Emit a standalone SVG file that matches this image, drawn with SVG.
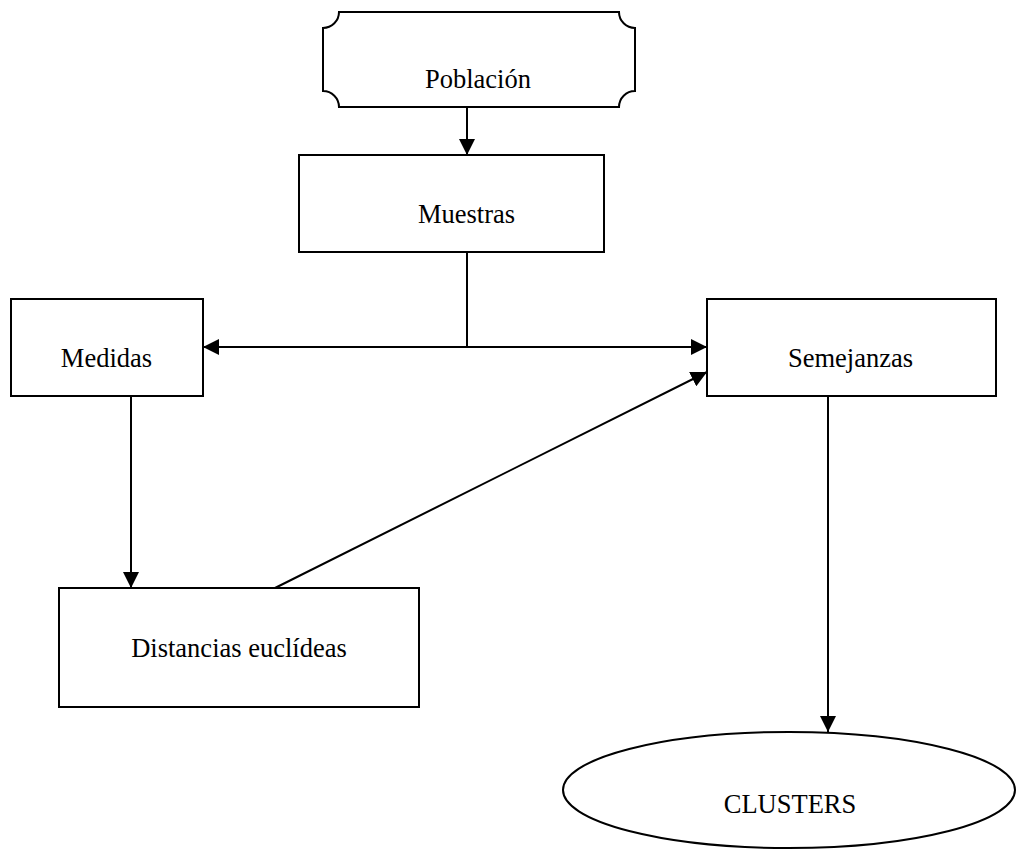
<svg xmlns="http://www.w3.org/2000/svg" width="1016" height="850" viewBox="0 0 1016 850">
<defs>
<style>
.n{fill:#fff;stroke:#000;stroke-width:2}
.t{font-family:"Liberation Serif","Times New Roman",serif;font-size:26.5px;fill:#000;text-anchor:middle}
.c{fill:none;stroke:#000;stroke-width:2}
</style>
<marker id="ah" markerUnits="userSpaceOnUse" markerWidth="16" markerHeight="16" viewBox="0 0 16 16" refX="16" refY="8" orient="auto">
<path d="M0,0 L16,8 L0,16 Z" fill="#000"/>
</marker>
</defs>
<rect width="1016" height="850" fill="#fff"/>
<g id="connectors">
<line class="c" x1="467" y1="107" x2="467" y2="155" marker-end="url(#ah)"/>
<line class="c" x1="467" y1="252" x2="467" y2="347"/>
<line class="c" x1="467" y1="347" x2="203" y2="347" marker-end="url(#ah)"/>
<line class="c" x1="467" y1="347" x2="707" y2="347" marker-end="url(#ah)"/>
<line class="c" x1="131" y1="396" x2="131" y2="588" marker-end="url(#ah)"/>
<line class="c" x1="275" y1="588" x2="707" y2="372" marker-end="url(#ah)"/>
<line class="c" x1="828" y1="396" x2="828" y2="732" marker-end="url(#ah)"/>
</g>
<g id="poblacion">
<path class="n" d="M339,12 H619 A16,16 0 0 0 635,28 V91 A16,16 0 0 0 619,107 H339 A16,16 0 0 0 323,91 V28 A16,16 0 0 0 339,12 Z"/>
<text class="t" x="478" y="88">Población</text>
</g>
<g id="muestras">
<rect class="n" x="299" y="155" width="305" height="97"/>
<text class="t" x="466.5" y="223">Muestras</text>
</g>
<g id="medidas">
<rect class="n" x="11" y="299" width="192" height="97"/>
<text class="t" x="106.5" y="367">Medidas</text>
</g>
<g id="semejanzas">
<rect class="n" x="707" y="299" width="289" height="97"/>
<text class="t" x="850.5" y="367">Semejanzas</text>
</g>
<g id="distancias">
<rect class="n" x="59" y="588" width="360" height="119"/>
<text class="t" x="239" y="657">Distancias euclídeas</text>
</g>
<g id="clusters">
<ellipse class="n" cx="789" cy="790" rx="226" ry="58"/>
<text class="t" x="790" y="813">CLUSTERS</text>
</g>
</svg>
